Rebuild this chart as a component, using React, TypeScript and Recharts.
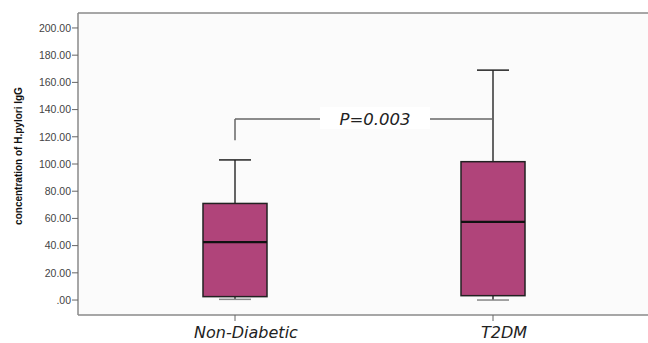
import React from 'react';
import { ComposedChart, Bar, XAxis, YAxis, ReferenceLine, CartesianGrid } from 'recharts';

const groups = ['Non-Diabetic', 'T2DM'];
const mins = [0.5, 0];
const q1s = [2.5, 3.2];
const medians = [42.5, 57.5];
const q3s = [71, 101.7];
const maxs = [103, 169];
const yTicks = [0, 20, 40, 60, 80, 100, 120, 140, 160, 180, 200];
const pLabel = 'P=0.003';
const bracketTop = 133;
const bracketLeftBottom = 117.5;

const data = groups.map((name, i) => ({
  name,
  min: mins[i],
  q1: q1s[i],
  median: medians[i],
  q3: q3s[i],
  max: maxs[i],
}));

const BOX_FILL = '#b0447a';
const FRAME = '#8a8a8a';

const BoxShape = (props: any) => {
  const { x, y, width, height, payload } = props;
  if (!payload) return null;
  const k = height / (payload.max - payload.min);
  const py = (v: number) => y + (payload.max - v) * k;
  const cx = x + width / 2;
  const capHalf = width / 4;
  return (
    <g>
      <line x1={cx} x2={cx} y1={py(payload.max)} y2={py(payload.q3)} stroke="#333" strokeWidth={1.5} />
      <line x1={cx} x2={cx} y1={py(payload.q1)} y2={py(payload.min)} stroke="#333" strokeWidth={1.5} />
      <line x1={cx - capHalf} x2={cx + capHalf} y1={py(payload.max)} y2={py(payload.max)} stroke="#222" strokeWidth={1.5} />
      <line x1={cx - capHalf} x2={cx + capHalf} y1={py(payload.min)} y2={py(payload.min)} stroke="#888" strokeWidth={1.5} />
      <rect x={x} y={py(payload.q3)} width={width} height={py(payload.q1) - py(payload.q3)} fill={BOX_FILL} stroke="#222" strokeWidth={1.5} />
      <line x1={x} x2={x + width} y1={py(payload.median)} y2={py(payload.median)} stroke="#111" strokeWidth={2.2} />
    </g>
  );
};

const fmt = (v: number) => (v === 0 ? '.00' : v.toFixed(2));

const PLabel = (props: any) => {
  const vb = props.viewBox || {};
  const cx = (vb.x ?? 0) + (vb.width ?? 0) / 2 + 11;
  const cy = vb.y ?? 0;
  return (
    <g>
      <rect x={cx - 55} y={cy - 12} width={110} height={22} fill="#ffffff" />
      <text x={cx} y={cy} textAnchor="middle" dominantBaseline="central" fontFamily="DejaVu Sans, Verdana, sans-serif" fontStyle="italic" fontSize={16.5} fill="#222">
        {pLabel}
      </text>
    </g>
  );
};

const YLabel = (props: any) => {
  const vb = props.viewBox || {};
  const x = 18;
  const y = (vb.y ?? 0) + (vb.height ?? 0) / 2 - 8;
  return (
    <text x={x} y={y} transform={`rotate(-90, ${x}, ${y})`} textAnchor="middle" dominantBaseline="central" fontFamily="'Liberation Sans Narrow', 'Arial Narrow', 'Liberation Sans', Arial, sans-serif" fontWeight="bold" fontSize={10} fill="#111">
      concentration of H.pylori IgG
    </text>
  );
};

export default function App() {
  return (
    <div style={{ position: 'absolute', left: 0, top: 0, width: 648, height: 343, background: '#fff' }}>
      <ComposedChart width={648} height={343} data={data} margin={{ top: 13, right: 0, bottom: 0, left: 0 }}>
        <CartesianGrid fill="#fbfbfb" horizontal={false} vertical={false} />
        <XAxis
          dataKey="name"
          type="category"
          height={28}
          padding={{ left: 28, right: 26 }}
          axisLine={{ stroke: FRAME, strokeWidth: 1.5 }}
          tickLine={{ stroke: '#666' }}
          tickSize={6}
          tick={{ fontFamily: 'DejaVu Sans, Verdana, sans-serif', fontStyle: 'italic', fontSize: 16, fill: '#222', dx: 11, dy: 4 }}
        />
        <YAxis
          type="number"
          domain={[-11, 211]}
          ticks={yTicks}
          allowDataOverflow
          width={78}
          tickFormatter={fmt}
          axisLine={{ stroke: FRAME, strokeWidth: 1.5 }}
          tickLine={{ stroke: '#666' }}
          tickSize={6}
          tickMargin={1}
          tick={{ fontFamily: 'Liberation Sans, Arial, sans-serif', fontSize: 10.5, fill: '#444' }}
          label={<YLabel />}
        />
        <ReferenceLine y={211} stroke={FRAME} strokeWidth={1.5} />
        <Bar dataKey={(d: any) => [d.min, d.max]} barSize={64} shape={<BoxShape />} isAnimationActive={false} />
        <ReferenceLine
          segment={[{ x: 'Non-Diabetic', y: bracketLeftBottom }, { x: 'Non-Diabetic', y: bracketTop }]}
          stroke="#666"
          strokeWidth={1.5}
        />
        <ReferenceLine
          segment={[{ x: 'Non-Diabetic', y: bracketTop }, { x: 'T2DM', y: bracketTop }]}
          stroke="#666"
          strokeWidth={1.5}
          label={<PLabel />}
        />
      </ComposedChart>
    </div>
  );
}
